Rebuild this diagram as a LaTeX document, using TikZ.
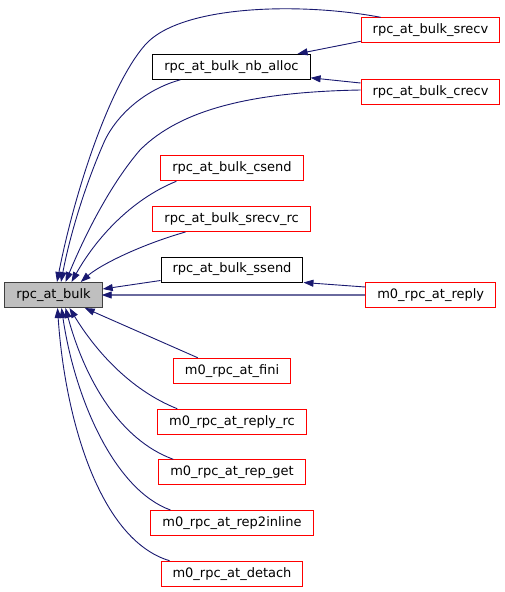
\documentclass[tikz,border=0pt]{standalone}
\usepackage{fontspec}
\setmainfont{DejaVu Sans}
\usepackage{tikz}
\usetikzlibrary{positioning,calc,arrows.meta}
\definecolor{Edge}{HTML}{191970}
\definecolor{EdgeLight}{HTML}{6A6A9E}
\definecolor{RedBox}{HTML}{FF0000}
\definecolor{SelFill}{HTML}{BFBFBF}
\definecolor{SelLine}{HTML}{404040}

\begin{document}
\begin{tikzpicture}[
    x=1pt,
    y=-1pt,
    every node/.style={font=\fontsize{13}{15}\selectfont},
    fbox/.style={draw=RedBox, line width=1pt, fill=white, inner xsep=11.5pt,
                 minimum height=25pt, inner ysep=0pt},
    dbox/.style={fbox, draw=black},
    selbox/.style={fbox, draw=SelLine, fill=SelFill},
    call/.style={Edge, line width=0.9pt, -{Triangle[length=10pt,width=7pt]}}
]
\useasboundingbox (0,0) rectangle (505,592);

% Function being called
\node[selbox] (nBulk) at (53.5,295) {rpc\_at\_bulk};

% Direct callers
\node[dbox] (nNbAlloc) at (231.5,66.8) {rpc\_at\_bulk\_nb\_alloc};
\node[fbox] (nCsend) at (232,168.3) {rpc\_at\_bulk\_csend};
\node[fbox] (nSrecvRc) at (231.6,219) {rpc\_at\_bulk\_srecv\_rc};
\node[dbox] (nSsend) at (232,269.5) {rpc\_at\_bulk\_ssend};
\node[fbox] (nFini) at (232,370.8) {m0\_rpc\_at\_fini};
\node[fbox] (nReplyRc) at (232,421.7) {m0\_rpc\_at\_reply\_rc};
\node[fbox] (nRepGet) at (232,472.3) {m0\_rpc\_at\_rep\_get};
\node[fbox] (nRep2Inline) at (232,523) {m0\_rpc\_at\_rep2inline};
\node[fbox] (nDetach) at (232,573.7) {m0\_rpc\_at\_detach};

% Second level callers
\node[fbox] (nSrecv) at (430.5,30.3) {rpc\_at\_bulk\_srecv};
\node[fbox] (nCrecv) at (430.5,92) {rpc\_at\_bulk\_crecv};
\node[fbox] (nReply) at (430.7,295) {m0\_rpc\_at\_reply};

% Upper edges
\draw[call] ([xshift=20pt]nSrecv.north west) .. controls (300,2) and (180,5) .. (145,45)
    .. controls (110,85) and (75,190) .. ([xshift=3.5pt]nBulk.north);
\draw[call] ([yshift=-11pt]nSrecv.west) -- ([xshift=-13pt]nNbAlloc.north east);
\draw[call] ([yshift=9pt]nCrecv.west) -- ([yshift=2pt]nNbAlloc.south east);
\draw[call] ([yshift=2pt]nCrecv.west) .. controls (250,92) and (180,110) .. (140,150)
    .. controls (110,185) and (85,235) .. ([xshift=12pt]nBulk.north);
\draw[call] ([xshift=28pt]nNbAlloc.south west) .. controls (150,88) and (120,110) .. (105,140)
    .. controls (85,185) and (70,235) .. ([xshift=7.5pt]nBulk.north);
\draw[call] ([xshift=16pt]nCsend.south west) .. controls (130,200) and (95,240) .. ([xshift=18pt]nBulk.north);
\draw[call] ([xshift=33pt]nSrecvRc.south west) .. controls (140,245) and (100,265) .. ([xshift=-22pt]nBulk.north east);
\draw[call] ([yshift=2pt]nSsend.south west) -- ([yshift=6pt]nBulk.east);
\draw[call] ([yshift=8pt]nReply.west) -- (nSsend.south east);
\draw[EdgeLight, line width=1.5pt, -{Triangle[length=10pt,width=7pt,color=Edge,fill=Edge,line width=0.9pt]},
    shorten >=-1pt] (nReply.west) -- (nBulk.east);

% Lower edges
\draw[call] ([xshift=25pt]nFini.north west) -- ([xshift=-18pt]nBulk.south east);
\draw[call] ([xshift=20pt]nReplyRc.north west) .. controls (130,390) and (95,350) .. ([xshift=16pt]nBulk.south);
\draw[call] ([xshift=15pt]nRepGet.north west) .. controls (120,440) and (85,380) .. ([xshift=12pt]nBulk.south);
\draw[call] ([xshift=20pt]nRep2Inline.north west) .. controls (115,490) and (75,400) .. ([xshift=8pt]nBulk.south);
\draw[call] ([xshift=9pt]nDetach.north west) .. controls (100,540) and (65,420) .. ([xshift=4pt]nBulk.south);

\end{tikzpicture}
\end{document}
